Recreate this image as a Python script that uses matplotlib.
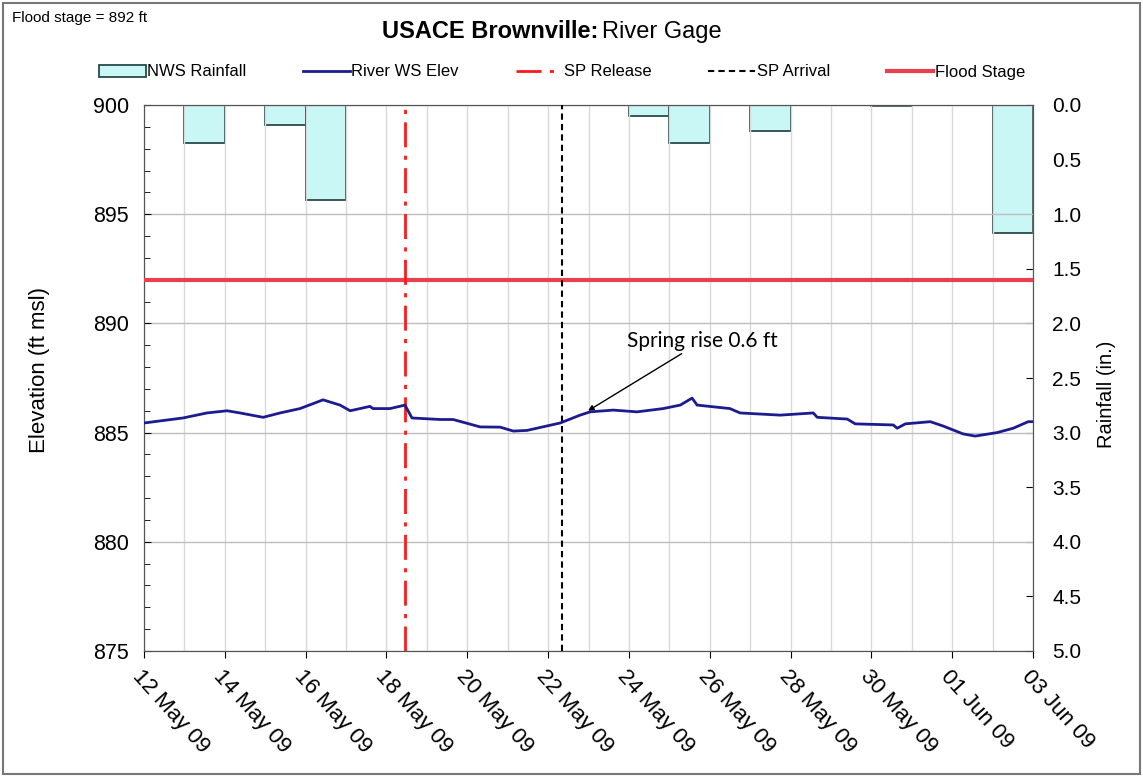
import numpy as np
import pandas as pd
import matplotlib
matplotlib.use('Agg')
import matplotlib.pyplot as plt
import matplotlib.dates as mdates
from matplotlib.patches import Rectangle, Patch
from matplotlib.lines import Line2D

plt.rcParams['font.family'] = ['Liberation Sans', 'DejaVu Sans']

# River water surface elevation (ft msl)
river_times = ['2009-05-12 00:00', '2009-05-12 23:10', '2009-05-13 13:25', '2009-05-14 01:20',
               '2009-05-14 09:00', '2009-05-14 22:45', '2009-05-15 08:50', '2009-05-15 20:40',
               '2009-05-16 10:20', '2009-05-16 20:25', '2009-05-17 02:25', '2009-05-17 14:10',
               '2009-05-17 16:00', '2009-05-18 02:10', '2009-05-18 11:00', '2009-05-18 15:10',
               '2009-05-19 07:50', '2009-05-19 15:35', '2009-05-20 07:40', '2009-05-20 19:30',
               '2009-05-21 03:20', '2009-05-21 11:30', '2009-05-22 07:10', '2009-05-22 19:00',
               '2009-05-23 01:00', '2009-05-23 14:40', '2009-05-24 04:50', '2009-05-24 20:20',
               '2009-05-25 06:30', '2009-05-25 13:30', '2009-05-25 16:30', '2009-05-26 12:00',
               '2009-05-26 18:00', '2009-05-27 17:50', '2009-05-28 13:30', '2009-05-28 15:50',
               '2009-05-29 09:40', '2009-05-29 14:25', '2009-05-30 13:00', '2009-05-30 15:20',
               '2009-05-30 20:10', '2009-05-31 11:00', '2009-05-31 18:40', '2009-06-01 06:30',
               '2009-06-01 13:40', '2009-06-02 02:40', '2009-06-02 12:15', '2009-06-02 21:10',
               '2009-06-03 00:00']
river_elev = [885.44, 885.67, 885.90, 886.00, 885.90, 885.70, 885.90, 886.10,
              886.50, 886.26, 886.00, 886.20, 886.10, 886.10, 886.26, 885.67,
              885.60, 885.60, 885.26, 885.25, 885.07, 885.10, 885.44, 885.80,
              885.95, 886.03, 885.95, 886.10, 886.26, 886.58, 886.26, 886.10,
              885.90, 885.80, 885.90, 885.70, 885.62, 885.40, 885.35, 885.20,
              885.40, 885.50, 885.30, 884.94, 884.84, 885.00, 885.20, 885.50,
              885.50]

# NWS daily rainfall (in.)
rain_days = ['2009-05-13', '2009-05-15', '2009-05-16', '2009-05-24',
             '2009-05-25', '2009-05-27', '2009-05-30', '2009-06-02']
rain_in = [0.35, 0.18, 0.87, 0.10, 0.35, 0.24, 0.01, 1.17]

flood_stage = 892
sp_release = '2009-05-18 11:00'
sp_arrival = '2009-05-22 08:00'
x_start, x_end = '2009-05-12', '2009-06-03'

t_river = pd.to_datetime(river_times)
t_rain = pd.to_datetime(rain_days)

fig = plt.figure(figsize=(11.43, 7.77), dpi=100)
ax = fig.add_axes([144/1143, 1-651/777, (1033-144)/1143, (651-105)/777])
ax2 = ax.twinx()

# rainfall bars hanging from the top (inverted right axis)
ax2.bar(t_rain, rain_in, width=1.0, align='edge', color='#c9f7f5',
        edgecolor='#2a4a48', linewidth=1.3, zorder=2)
ax2.set_ylim(5, 0)
ax2.set_yticks(np.arange(0, 5.01, 0.5))
ax2.yaxis.set_major_formatter(plt.FormatStrFormatter('%.1f'))
ax2.tick_params(axis='y', direction='in', labelsize=15, length=5, pad=14)
ax2.set_ylabel('Rainfall (in.)', fontsize=14.5)
ax2.yaxis.set_label_coords(1.072, 0.47)

ax.set_zorder(ax2.get_zorder() + 1)
ax.patch.set_visible(False)

ax.plot(t_river, river_elev, color='#1c1c8f', lw=2, zorder=4)
ax.axhline(flood_stage, color='#e8404f', lw=3, zorder=3)
ax.axvline(pd.Timestamp(sp_release), color='#ff1a1a', lw=2, ls=(0, (9, 3, 1.5, 3)), zorder=3)
ax.axvline(pd.Timestamp(sp_arrival), color='black', lw=1.5, ls=(0, (3, 2)), zorder=3)

ax.set_xlim(pd.Timestamp(x_start), pd.Timestamp(x_end))
ax.set_ylim(875, 900)
ax.set_yticks(np.arange(875, 901, 5))
ax.set_yticks(np.arange(875, 901, 1), minor=True)
ax.tick_params(axis='y', which='both', direction='in', labelsize=15.5)
ax.tick_params(axis='y', which='minor', length=4)
ax.tick_params(axis='y', which='major', length=5, pad=11)
ax.set_ylabel('Elevation (ft msl)', fontsize=16)
ax.yaxis.set_label_coords(-0.106, 0.515)

ax.xaxis.set_major_locator(mdates.DayLocator(interval=2))
ax.xaxis.set_minor_locator(mdates.DayLocator())
ax.xaxis.set_major_formatter(mdates.DateFormatter('%d %b %y'))
ax.tick_params(axis='x', which='major', direction='out', length=5, labelsize=16, pad=6)
ax.tick_params(axis='x', which='minor', length=0)
for lab in ax.get_xticklabels():
    lab.set_rotation(-48)
    lab.set_ha('left')
    lab.set_va('top')
    lab.set_rotation_mode('anchor')

ax.grid(True, which='major', axis='y', color='#bdbdbd', lw=1)
ax.grid(True, which='both', axis='x', color='#d9d9d9', lw=1)
ax.set_axisbelow(True)
for sp in list(ax.spines.values()) + list(ax2.spines.values()):
    sp.set_color('#555555')

ax.annotate('Spring rise 0.6 ft', xy=(pd.Timestamp('2009-05-22 23:45'), 886.0),
            xytext=(pd.Timestamp('2009-05-23 23:00'), 889.2),
            fontsize=15, family=['Lato', 'DejaVu Sans'], va='center', ha='left',
            arrowprops=dict(arrowstyle='-|>', color='black', lw=1, mutation_scale=8,
                            shrinkA=0, shrinkB=0))

# legend row above the plot
handles = [Patch(facecolor='#c9f7f5', edgecolor='#2a4a48', lw=1.3),
           Line2D([], [], color='#1c1c8f', lw=2),
           Line2D([], [], color='#ff1a1a', lw=2, ls=(0, (9, 3, 1.5, 3))),
           Line2D([], [], color='black', lw=1.5, ls=(0, (3, 2))),
           Line2D([], [], color='#e8404f', lw=3)]
labels = ['NWS Rainfall', 'River WS Elev', 'SP Release', 'SP Arrival', 'Flood Stage']
fig.legend(handles, labels, loc='center', bbox_to_anchor=(562/1143, 1-72/777), ncol=5,
           frameon=False, fontsize=12, handlelength=2.8, handletextpad=0.1,
           columnspacing=3.4)

fig.text(598/1143, 1-32/777, 'USACE Brownville:', fontsize=17, fontweight='bold',
         ha='right', va='center')
fig.text(602/1143, 1-32/777, 'River Gage', fontsize=17, ha='left', va='center')
fig.text(12/1143, 1-18/777, 'Flood stage = 892 ft', fontsize=11, ha='left', va='center')

fig.add_artist(Rectangle((0.003, 0.004), 0.994, 0.992, transform=fig.transFigure,
                         fill=False, edgecolor='#777777', lw=1.5))

fig.savefig('out.png', dpi=100)
